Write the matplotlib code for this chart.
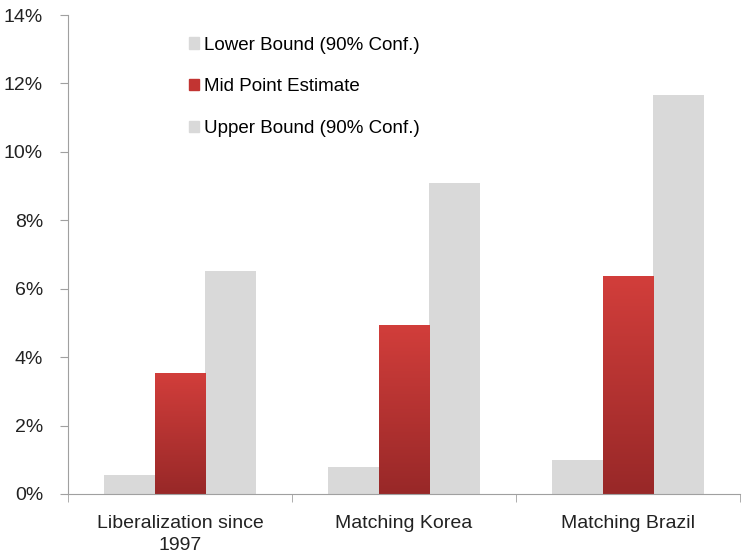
import numpy as np
import matplotlib.pyplot as plt
from matplotlib.patches import Patch
from matplotlib.colors import LinearSegmentedColormap

plt.rcParams['font.family'] = ['Liberation Sans', 'DejaVu Sans']

categories = ["Liberalization since\n1997", "Matching Korea", "Matching Brazil"]
lower = [0.55, 0.79, 0.99]
mid = [3.54, 4.94, 6.37]
upper = [6.52, 9.09, 11.67]
yticks = [0, 2, 4, 6, 8, 10, 12, 14]

grey = "#d9d9d9"
red_cmap = LinearSegmentedColormap.from_list("red_grad", ["#982828", "#d23e3b"])

fig = plt.figure(figsize=(7.42, 5.55), dpi=100)
ax = fig.add_axes([68 / 742, 61 / 555, 672 / 742, 479 / 555])

x = np.arange(len(categories))
w = 0.225

ax.bar(x - w, lower, w, color=grey, zorder=2)
ax.bar(x + w, upper, w, color=grey, zorder=2)
red_bars = ax.bar(x, mid, w, color="none", linewidth=0, zorder=3)

# vertical gradient fill for the mid point bars
grad = np.linspace(0, 1, 256).reshape(-1, 1)
for b in red_bars:
    x0, y0 = b.get_x(), b.get_y()
    im = ax.imshow(grad, cmap=red_cmap, origin="lower", aspect="auto",
                   extent=(x0, x0 + b.get_width(), y0, y0 + b.get_height()), zorder=2.5)
    im.set_clip_path(b)

ax.set_xlim(-0.5, len(categories) - 0.5)
ax.set_ylim(0, 14)
ax.set_yticks(yticks)
ax.set_yticklabels([f"{t}%" for t in yticks])
ax.set_xticks(x)
ax.set_xticklabels(categories, linespacing=1.4)
ax.set_xticks(np.arange(-0.5, len(categories)), minor=True)
ax.tick_params(axis="x", which="major", length=0, pad=15)
ax.tick_params(axis="x", which="minor", length=6, color="#a0a0a0")
ax.tick_params(axis="y", length=6, color="#a0a0a0", pad=12)
ax.tick_params(labelsize=14, labelcolor="#222222")

for s in ["top", "right"]:
    ax.spines[s].set_visible(False)
for s in ["left", "bottom"]:
    ax.spines[s].set_color("#a0a0a0")

handles = [Patch(color=grey, label="Lower Bound (90% Conf.)"),
           Patch(color="#c23432", label="Mid Point Estimate"),
           Patch(color=grey, label="Upper Bound (90% Conf.)")]
ax.legend(handles=handles, loc="upper left", bbox_to_anchor=(0.155, 0.99),
          frameon=False, fontsize=13.5, handlelength=0.55, handleheight=0.55,
          handletextpad=0.25, labelspacing=1.32)

fig.savefig("out.png", dpi=100)
